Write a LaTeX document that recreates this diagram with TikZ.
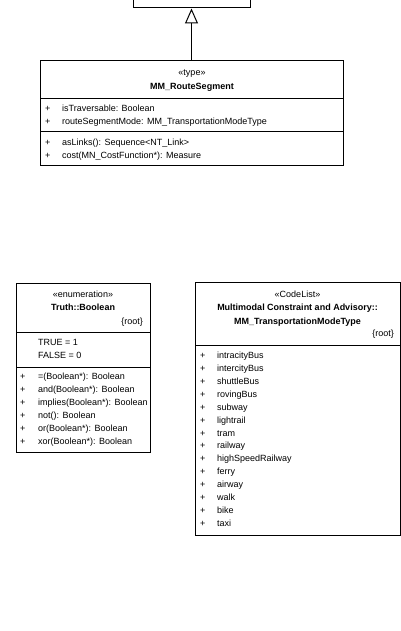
\documentclass[tikz,border=0pt]{standalone}
\usepackage{fontspec}
\setmainfont{Liberation Sans}
\usetikzlibrary{arrows.meta}
\begin{document}
\begin{tikzpicture}[x=1pt,y=-1pt,
  box/.style={draw=black,line width=1pt,inner sep=0pt,fill=white},
  sep/.style={draw=black,line width=1pt},
  lbl/.style={inner sep=0pt,anchor=mid west,font=\fontsize{9}{11}\selectfont},
  ctr/.style={inner sep=0pt,anchor=mid,font=\fontsize{9}{11}\selectfont},
  cname/.style={inner sep=0pt,anchor=mid,font=\fontsize{9}{11}\selectfont\bfseries},
  rgt/.style={inner sep=0pt,anchor=mid east,font=\fontsize{9}{11}\selectfont},
  gen/.style={draw=black,line width=1pt,-{Triangle[open,length=15pt,width=13pt,line width=1pt]}}]
\fill[white] (0,0) rectangle (401,631);
\useasboundingbox (0,0) rectangle (401,631);
\begin{scope}
\clip (0,0) rectangle (401,631);
% super class (cut off)
\node[box,minimum width=117pt,minimum height=40pt] (super) at (191.5,-12) {};
\end{scope}
% MM_RouteSegment
\node[box,minimum width=303pt,minimum height=105pt] (rs) at (191.5,113.5) {};
\draw[sep] (40,99) -- (343,99);
\draw[sep] (40,132) -- (343,132);
\node[ctr] (rsst) at (192,73) {«type»};
\node[cname] (rsn) at (192,87) {MM\_RouteSegment};
\node[lbl] (rsp1) at (45,109) {+};
\node[lbl] (rsa1) at (62,109) {isTraversable: Boolean};
\node[lbl] (rsp2) at (45,122) {+};
\node[lbl] (rsa2) at (62,122) {routeSegmentMode: MM\_TransportationModeType};
\node[lbl] (rsp3) at (45,143) {+};
\node[lbl] (rso1) at (62,143) {asLinks(): Sequence<NT\_Link>};
\node[lbl] (rsp4) at (45,156) {+};
\node[lbl] (rso2) at (62,156) {cost(MN\_CostFunction*): Measure};
\draw[gen] (rs.north) -- (super.south);
% Truth::Boolean
\node[box,minimum width=134pt,minimum height=169pt] (bool) at (83,367.5) {};
\draw[sep] (16,332) -- (150,332);
\draw[sep] (16,367) -- (150,367);
\node[ctr] (bst) at (83,295) {«enumeration»};
\node[cname] (bn) at (83,308) {Truth::Boolean};
\node[rgt] (broot) at (143,322) {\{root\}};
\node[lbl] (bt) at (38,343) {TRUE = 1};
\node[lbl] (bf) at (38,356) {FALSE = 0};
\foreach \t [count=\i from 0] in {=(Boolean*): Boolean,and(Boolean*): Boolean,implies(Boolean*): Boolean,not(): Boolean,or(Boolean*): Boolean,xor(Boolean*): Boolean}{
  \node[lbl] (bp\i) at (20,377+13*\i) {+};
  \node[lbl] (bo\i) at (38,377+13*\i) {\t};
}
% CodeList
\node[box,minimum width=205pt,minimum height=253pt] (cl) at (297.5,408.5) {};
\draw[sep] (195,345) -- (400,345);
\node[ctr] (clst) at (297.5,295) {«CodeList»};
\node[cname] (cln1) at (297.5,308) {Multimodal Constraint and Advisory::};
\node[cname] (cln2) at (297.5,322) {MM\_TransportationModeType};
\node[rgt] (clroot) at (394,334) {\{root\}};
\foreach \t [count=\i from 0] in {intracityBus,intercityBus,shuttleBus,rovingBus,subway,lightrail,tram,railway,highSpeedRailway,ferry,airway,walk,bike,taxi}{
  \node[lbl] (cp\i) at (200,356+12.9*\i) {+};
  \node[lbl] (ci\i) at (217,356+12.9*\i) {\t};
}
\end{tikzpicture}
\end{document}
